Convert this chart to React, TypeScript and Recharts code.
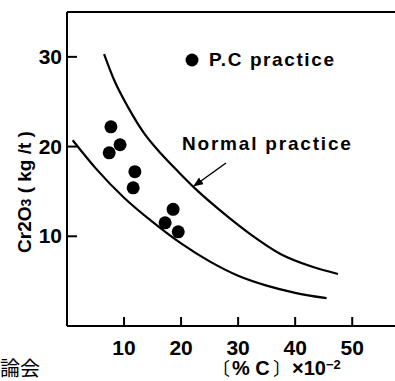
import { ComposedChart, Line, Scatter, XAxis, YAxis, ReferenceLine } from "recharts";

// P.C practice points
const pcX = [7.7, 9.3, 7.4, 11.9, 11.6, 18.6, 17.2, 19.5];
const pcY = [22.2, 20.2, 19.3, 17.2, 15.4, 13.0, 11.5, 10.5];

// normal practice band, upper and lower curve
const upperX = [6.5, 8.2, 10.7, 13.5, 16.5, 19.5, 23, 27, 32, 37.5, 43, 47.5];
const upperY = [30.3, 27.5, 24.4, 21.5, 19.2, 17.2, 15.0, 12.8, 10.3, 8.0, 6.6, 5.8];
const lowerX = [1, 5, 10, 15, 20, 25, 30, 35, 40, 45.5];
const lowerY = [20.7, 17.6, 14.3, 11.6, 9.2, 7.2, 5.6, 4.5, 3.7, 3.1];

const xTicks = [10, 20, 30, 40, 50];
const yTicks = [10, 20, 30];

const pcData = pcX.map((x, i) => ({ x, y: pcY[i] }));
const upperData = upperX.map((x, i) => ({ x, y: upperY[i] }));
const lowerData = lowerX.map((x, i) => ({ x, y: lowerY[i] }));

const FONT = "'Liberation Sans', Arial, sans-serif";
const CJK = "'Noto Sans CJK JP', sans-serif";

function YTick({ x, y, payload }: any) {
  return (
    <g>
      <line x1={x + 5} x2={x + 15} y1={y} y2={y} stroke="#000" strokeWidth={2} />
      <text x={x} y={y} dy={7} textAnchor="end" fontSize={21} fontWeight="bold" fontFamily={FONT} fill="#000">
        {payload.value}
      </text>
    </g>
  );
}

function XTick({ x, y, payload }: any) {
  return (
    <g>
      <line x1={x} x2={x} y1={y} y2={y - 9} stroke="#000" strokeWidth={2} />
      <text x={x} y={y + 29} textAnchor="middle" fontSize={21} fontWeight="bold" fontFamily={FONT} fill="#000">
        {payload.value}
      </text>
    </g>
  );
}

const dot = (p: any) => <circle cx={p.cx} cy={p.cy} r={6.5} fill="#000" />;

export default function App() {
  return (
    <div style={{ position: "absolute", left: 0, top: 0, width: 395, height: 381, background: "#fff" }}>
      <ComposedChart width={395} height={381} margin={{ top: 12, right: 0, bottom: 0, left: 0 }}>
        <XAxis
          type="number"
          dataKey="x"
          domain={[0, 57.5]}
          ticks={xTicks}
          height={55}
          tickSize={0}
          tickMargin={0}
          tickLine={false}
          axisLine={{ stroke: "#000", strokeWidth: 2 }}
          tick={<XTick />}
          allowDataOverflow
        />
        <YAxis
          type="number"
          dataKey="y"
          domain={[0, 35]}
          ticks={yTicks}
          width={67}
          tickSize={0}
          tickMargin={5}
          tickLine={false}
          axisLine={{ stroke: "#000", strokeWidth: 2 }}
          tick={<YTick />}
          allowDataOverflow
        />
        <ReferenceLine y={35} stroke="#000" strokeWidth={2} />
        <Line data={upperData} dataKey="y" type="monotone" stroke="#000" strokeWidth={2.2} dot={false} isAnimationActive={false} />
        <Line data={lowerData} dataKey="y" type="monotone" stroke="#000" strokeWidth={2.2} dot={false} isAnimationActive={false} />
        <Scatter data={pcData} dataKey="y" shape={dot} isAnimationActive={false} />
      </ComposedChart>
      <svg width={395} height={381} style={{ position: "absolute", left: 0, top: 0, pointerEvents: "none" }}>
        <defs>
          <marker id="arrow" markerWidth="10" markerHeight="8" refX="9" refY="4" orient="auto" markerUnits="userSpaceOnUse">
            <path d="M0,0 L10,4 L0,8 Z" fill="#000" />
          </marker>
        </defs>
        <circle cx={192} cy={60} r={6.5} fill="#000" />
        <text x={209} y={66} fontSize={19} letterSpacing={1.6} fontWeight="bold" fontFamily={FONT} fill="#000">
          P.C practice
        </text>
        <text x={182} y={150} fontSize={19} letterSpacing={1.8} fontWeight="bold" fontFamily={FONT} fill="#000">
          Normal practice
        </text>
        <line x1={226} y1={163} x2={194} y2={186} stroke="#000" strokeWidth={1.5} markerEnd="url(#arrow)" />
        <text
          transform="translate(31,192) rotate(-90)"
          textAnchor="middle"
          fontSize={19}
          fontWeight="bold"
          fontFamily={FONT}
          fill="#000"
        >
          Cr2O<tspan fontSize={14}>3</tspan> ( kg /t )
        </text>
        <text y={375} fontSize={20} fontWeight="bold" fontFamily={FONT} fill="#000">
          <tspan x={212} fontFamily={CJK} fontWeight="normal" fontSize={18}>〔</tspan>
          <tspan x={232}>% C</tspan>
          <tspan x={273} fontFamily={CJK} fontWeight="normal" fontSize={18}>〕</tspan>
          <tspan x={292}>×10</tspan>
          <tspan dy={-6} fontSize={13}>−2</tspan>
        </text>
        <text x={0} y={376} fontSize={20} fontFamily={CJK} fill="#000">
          論会
        </text>
      </svg>
    </div>
  );
}
